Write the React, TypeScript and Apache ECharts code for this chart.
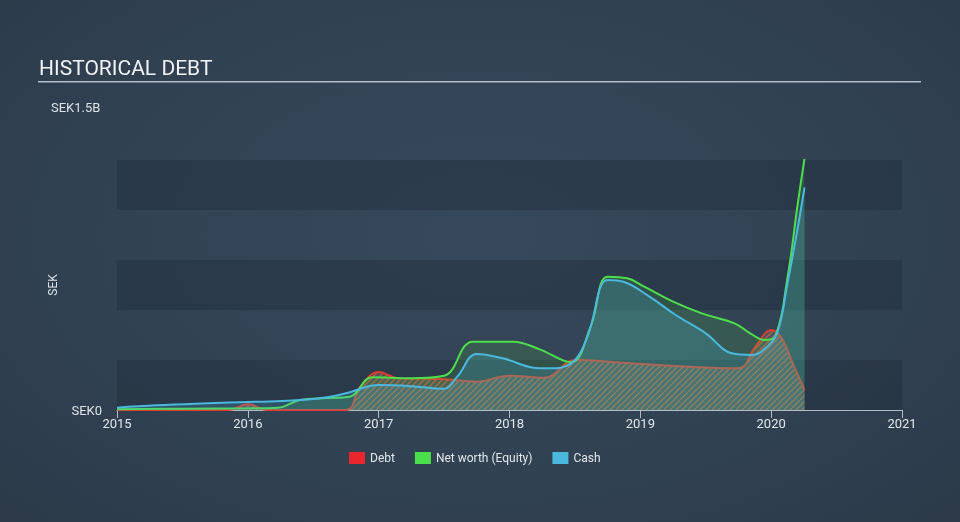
import React, { useEffect, useRef } from "react";
import * as echarts from "echarts";

// Decimal years and values in SEK billions
const debtDates = [2015.0, 2015.85, 2016.0, 2016.15, 2016.75, 2016.86, 2017.0, 2017.15, 2017.47, 2017.75, 2018.0, 2018.27, 2018.5, 2018.87, 2019.27, 2019.75, 2019.88, 2020.0, 2020.08, 2020.17, 2020.255];
const debtValues = [0, 0, 0.034, 0, 0, 0.14, 0.228, 0.19, 0.186, 0.17, 0.206, 0.194, 0.30, 0.284, 0.264, 0.25, 0.38, 0.48, 0.43, 0.27, 0.12];

const equityDates = [2015.0, 2015.5, 2016.0, 2016.23, 2016.4, 2016.6, 2016.78, 2016.95, 2017.25, 2017.5, 2017.72, 2018.03, 2018.23, 2018.47, 2018.62, 2018.75, 2018.9, 2019.03, 2019.25, 2019.47, 2019.72, 2019.84, 2019.95, 2020.03, 2020.13, 2020.2, 2020.255];
const equityValues = [0.004, 0.008, 0.01, 0.014, 0.06, 0.072, 0.08, 0.196, 0.19, 0.205, 0.41, 0.41, 0.364, 0.286, 0.5, 0.8, 0.79, 0.74, 0.65, 0.58, 0.52, 0.46, 0.42, 0.44, 0.82, 1.22, 1.51];

const cashDates = [2015.0, 2015.3, 2015.6, 2016.0, 2016.3, 2016.55, 2016.75, 2017.0, 2017.25, 2017.5, 2017.6, 2017.75, 2017.95, 2018.23, 2018.35, 2018.5, 2018.6, 2018.75, 2018.87, 2019.07, 2019.27, 2019.5, 2019.7, 2019.85, 2019.97, 2020.05, 2020.125, 2020.2, 2020.255];
const cashValues = [0.014, 0.028, 0.038, 0.048, 0.055, 0.07, 0.1, 0.15, 0.143, 0.128, 0.2, 0.336, 0.31, 0.25, 0.25, 0.3, 0.45, 0.78, 0.77, 0.68, 0.57, 0.46, 0.34, 0.33, 0.38, 0.47, 0.76, 1.08, 1.335];

const yearLabels = [2015, 2016, 2017, 2018, 2019, 2020, 2021];
const yMax = 1.5;
const yTopLabel = "SEK1.5B";
const yZeroLabel = "SEK0";

const pair = (xs: number[], ys: number[]) => xs.map((x, i) => [x, ys[i]]);

function makeHatch() {
  const c = document.createElement("canvas");
  c.width = 6;
  c.height = 6;
  const ctx = c.getContext("2d")!;
  ctx.fillStyle = "rgba(140,140,125,0.28)";
  ctx.fillRect(0, 0, 6, 6);
  ctx.strokeStyle = "rgba(215,95,65,0.8)";
  ctx.lineWidth = 1.3;
  ctx.beginPath();
  ctx.moveTo(0, 6);
  ctx.lineTo(6, 0);
  ctx.moveTo(-1, 1);
  ctx.lineTo(1, -1);
  ctx.moveTo(5, 7);
  ctx.lineTo(7, 5);
  ctx.stroke();
  return c;
}

export default function App() {
  const ref = useRef<HTMLDivElement>(null);
  useEffect(() => {
    const chart = echarts.init(ref.current!, undefined, { renderer: "svg" });
    const font = "Roboto";
    chart.setOption({
      animation: false,
      backgroundColor: "transparent",
      textStyle: { fontFamily: font },
      grid: { left: 117, right: 58, top: 160, bottom: 112 },
      legend: {
        left: 344,
        top: 447,
        itemWidth: 16,
        itemHeight: 12,
        itemGap: 20,
        icon: "rect",
        textStyle: { color: "#e2e6ea", fontSize: 12, fontFamily: font },
        data: [
          { name: "Debt", itemStyle: { color: "#e8262b" } },
          { name: "Net worth (Equity)", itemStyle: { color: "#4be04b" } },
          { name: "Cash", itemStyle: { color: "#4ab8df" } },
        ],
      },
      xAxis: {
        type: "value",
        min: 2015,
        max: 2021,
        interval: 1,
        axisLine: { show: true, lineStyle: { color: "#b4bcc6", width: 1 } },
        axisTick: { show: true, length: 8, lineStyle: { color: "#b4bcc6" } },
        axisLabel: {
          color: "#e2e6ea",
          fontSize: 13,
          margin: 7,
          formatter: (v: number) => (yearLabels.includes(Math.round(v)) ? String(Math.round(v)) : ""),
        },
        splitLine: { show: false },
      },
      yAxis: {
        type: "value",
        min: 0,
        max: yMax,
        interval: 0.3,
        name: "SEK",
        nameLocation: "middle",
        nameGap: 58,
        nameRotate: 90,
        nameTextStyle: { color: "#dde2e7", fontSize: 12, fontFamily: font },
        axisLine: { show: false },
        axisTick: { show: false },
        axisLabel: {
          color: "#dde2e7",
          fontSize: 13,
          margin: 15,
          formatter: (v: number) => (v === 0 ? yZeroLabel : ""),
        },
        splitLine: { show: false },
        splitArea: {
          show: true,
          areaStyle: { color: ["rgba(28,38,50,0.3)", "rgba(0,0,0,0)"] },
        },
      },
      graphic: [
        {
          type: "text",
          left: 39,
          top: 57,
          style: { text: "HISTORICAL DEBT", fill: "#f0f2f4", fontSize: 21, fontFamily: font },
        },
        {
          type: "rect",
          shape: { x: 38, y: 81, width: 883, height: 1.5 },
          style: { fill: "#b4bcc6" },
        },
        {
          type: "text",
          left: 51,
          top: 101,
          style: { text: yTopLabel, fill: "#dde2e7", fontSize: 13, fontFamily: font },
        },
      ],
      series: [
        {
          name: "Debt",
          type: "line",
          data: pair(debtDates, debtValues),
          smooth: 0.4,
          showSymbol: false,
          lineStyle: { color: "#e23a2e", width: 2 },
          itemStyle: { color: "#e8262b" },
          areaStyle: { color: { image: makeHatch(), repeat: "repeat" }, opacity: 1 },
          z: 2,
        },
        {
          name: "Net worth (Equity)",
          type: "line",
          data: pair(equityDates, equityValues),
          smooth: 0.4,
          showSymbol: false,
          lineStyle: { color: "#4be04b", width: 2 },
          itemStyle: { color: "#4be04b" },
          areaStyle: { color: "rgba(80,190,70,0.25)" },
          z: 3,
        },
        {
          name: "Cash",
          type: "line",
          data: pair(cashDates, cashValues),
          smooth: 0.4,
          showSymbol: false,
          lineStyle: { color: "#4ab8df", width: 2 },
          itemStyle: { color: "#4ab8df" },
          areaStyle: { color: "rgba(74,184,223,0.3)" },
          z: 4,
        },
      ],
    });
    return () => chart.dispose();
  }, []);
  return (
    <div
      style={{
        position: "fixed",
        left: 0,
        top: 0,
        width: 960,
        height: 522,
        background: "radial-gradient(ellipse at 50% 45%, #36485b 0%, #314253 55%, #2c3a49 100%)",
      }}
    >
      <div ref={ref} style={{ width: 960, height: 522 }} />
    </div>
  );
}
